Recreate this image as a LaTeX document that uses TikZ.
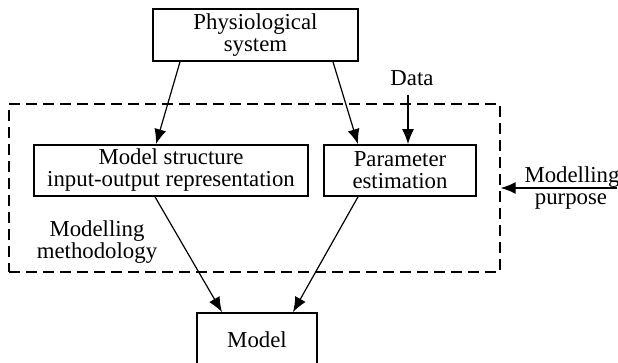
\documentclass[tikz,border=0pt]{standalone}
\usepackage{fontspec}
\setmainfont{Liberation Serif}
\usetikzlibrary{arrows.meta}
\begin{document}
\begin{tikzpicture}[x=0.5pt,y=-0.5pt,
 txt/.style={font=\fontsize{11.4}{11}\selectfont},
 box/.style={txt,draw,line width=0.85pt,inner sep=0pt,align=center},
 lbl/.style={txt,inner sep=0pt,align=center},
 arr/.style={line width=0.6pt,-{Latex[length=7.5pt,width=6pt]}},
 dashbox/.style={draw,line width=0.75pt,dash pattern=on 5.5pt off 3pt,inner sep=0pt}]
\useasboundingbox (0,0) rectangle (618,363);
\node[dashbox,minimum width=245.5pt,minimum height=84pt] (meth) at (254.5,188) {};
\node[box,minimum width=102.5pt,minimum height=26pt] (phys) at (255.5,35) {Physiological\\system};
\node[box,minimum width=137pt,minimum height=25.5pt] (ms) at (171,170.5) {Model structure\\input-output representation};
\node[box,minimum width=76pt,minimum height=25.5pt] (pe) at (400,170.5) {Parameter\\estimation};
\node[box,minimum width=60pt,minimum height=27pt] (model) at (257,340) {Model};
\node[lbl,anchor=base] (data) at (412,86) {Data};
\node[lbl] (methlbl) at (97,242.5) {Modelling\\methodology};
\node[lbl,anchor=base] (purp1) at (572,183) {Modelling};
\node[lbl,anchor=base] (purp2) at (571,205) {purpose};
\coordinate (pin) at (617,188);
\draw[arr] ([xshift=-37.75pt]phys.south) -- ([xshift=-7.5pt]ms.north);
\draw[arr] ([xshift=38.75pt]phys.south) -- ([xshift=-21pt]pe.north);
\draw[arr] ([xshift=-2pt,yshift=-4pt]data.south) -- ([xshift=-2pt]data.south |- pe.north);
\draw[arr] ([xshift=-8pt]ms.south) -- ([xshift=-17.5pt]model.north);
\draw[arr] ([xshift=-21pt]pe.south) -- ([xshift=18pt]model.north);
\draw[arr] (pin) -- (meth.east |- pin);
\end{tikzpicture}
\end{document}
